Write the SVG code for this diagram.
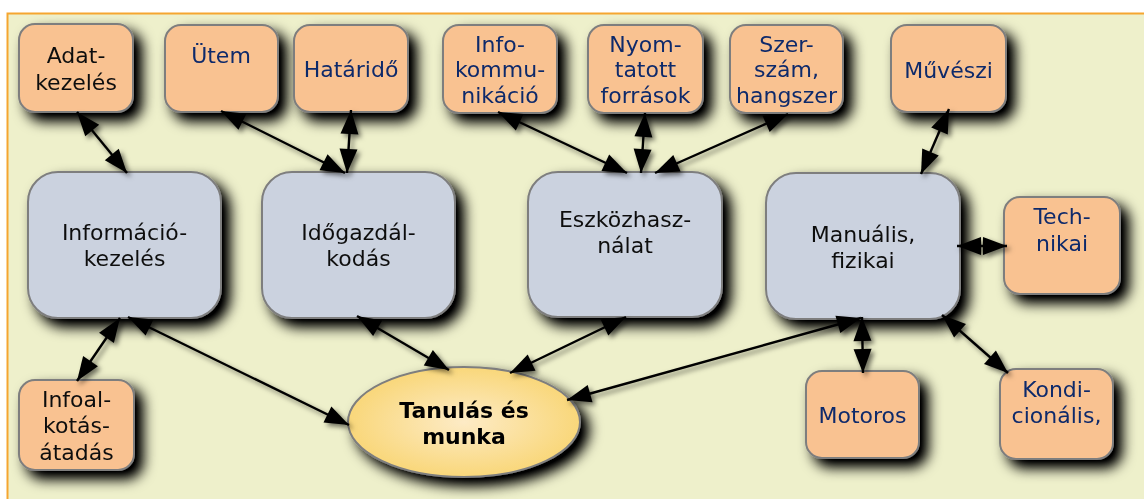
<svg xmlns="http://www.w3.org/2000/svg" width="1144" height="499" viewBox="0 0 1144 499">
<defs>
<style>
.o{fill:#F9C291;stroke:#7E7E7E;stroke-width:2}
.b{fill:#CBD2DF;stroke:#7E7E7E;stroke-width:2}
text{font-family:"DejaVu Sans",Verdana,sans-serif;font-size:22px;text-anchor:middle}
.k{fill:#111111}
.n{fill:#102A6B}
.c line{stroke:#000;stroke-width:2.4;marker-start:url(#ah);marker-end:url(#ah)}
</style>
<filter id="sh" x="-25%" y="-25%" width="160%" height="160%">
<feGaussianBlur in="SourceAlpha" stdDeviation="7"/>
<feOffset dx="8" dy="8"/>
<feComponentTransfer><feFuncA type="linear" slope="1.15"/></feComponentTransfer>
<feMerge><feMergeNode/><feMergeNode in="SourceGraphic"/></feMerge>
</filter>
<filter id="lsh" x="-20%" y="-20%" width="150%" height="150%">
<feDropShadow dx="3" dy="3" stdDeviation="2.5" flood-color="#000" flood-opacity="0.55"/>
</filter>
<marker id="ah" markerUnits="userSpaceOnUse" markerWidth="26" markerHeight="20" refX="24" refY="9" orient="auto-start-reverse" viewBox="0 0 26 18" overflow="visible">
<path d="M0,0 L24,9 L0,18 z" fill="#000"/>
</marker>
<radialGradient id="eg" cx="50%" cy="50%" r="50%">
<stop offset="0" stop-color="#FDEBC6"/>
<stop offset="1" stop-color="#F9D77A"/>
</radialGradient>
</defs>
<rect x="0" y="0" width="1144" height="499" fill="#ffffff"/>
<rect x="7.5" y="13.5" width="1150" height="500" fill="#EEF0CB" stroke="#F5A630" stroke-width="2"/>

<g id="n-adat" filter="url(#sh)"><rect class="o" x="19" y="24" width="114" height="88" rx="16"/><text class="k" x="76" y="63">Adat-</text><text class="k" x="76" y="90">kezelés</text></g>
<g id="n-utem" filter="url(#sh)"><rect class="o" x="165" y="25" width="113" height="87" rx="16"/><text class="n" x="221" y="63">Ütem</text></g>
<g id="n-hatarido" filter="url(#sh)"><rect class="o" x="294" y="25" width="114" height="87" rx="16"/><text class="n" x="351" y="77">Határidő</text></g>
<g id="n-info" filter="url(#sh)"><rect class="o" x="443" y="25" width="114" height="88" rx="16"/><text class="n" x="500" y="52">Info-</text><text class="n" x="500" y="77">kommu-</text><text class="n" x="500" y="103">nikáció</text></g>
<g id="n-nyom" filter="url(#sh)"><rect class="o" x="588" y="25" width="115" height="88" rx="16"/><text class="n" x="645.5" y="52">Nyom-</text><text class="n" x="645.5" y="77">tatott</text><text class="n" x="645.5" y="103">források</text></g>
<g id="n-szer" filter="url(#sh)"><rect class="o" x="730" y="25" width="113" height="88" rx="16"/><text class="n" x="786.5" y="52">Szer-</text><text class="n" x="786.5" y="77">szám,</text><text class="n" x="786.5" y="103">hangszer</text></g>
<g id="n-muveszi" filter="url(#sh)"><rect class="o" x="891" y="25" width="115" height="87" rx="16"/><text class="n" x="948.5" y="78">Művészi</text></g>

<g id="n-informacio" filter="url(#sh)"><rect class="b" x="28" y="172" width="193" height="146" rx="30"/><text class="k" x="124.5" y="240">Információ-</text><text class="k" x="124.5" y="266">kezelés</text></g>
<g id="n-ido" filter="url(#sh)"><rect class="b" x="262" y="172" width="193" height="146" rx="30"/><text class="k" x="358.5" y="240">Időgazdál-</text><text class="k" x="358.5" y="266">kodás</text></g>
<g id="n-eszkoz" filter="url(#sh)"><rect class="b" x="528" y="172" width="194" height="145" rx="30"/><text class="k" x="625" y="227">Eszközhasz-</text><text class="k" x="625" y="253">nálat</text></g>
<g id="n-manualis" filter="url(#sh)"><rect class="b" x="766" y="173" width="194" height="146" rx="30"/><text class="k" x="863" y="242">Manuális,</text><text class="k" x="863" y="268">fizikai</text></g>

<g id="n-tech" filter="url(#sh)"><rect class="o" x="1004" y="197" width="116" height="97" rx="16"/><text class="n" x="1062" y="224">Tech-</text><text class="n" x="1062" y="251">nikai</text></g>
<g id="n-motoros" filter="url(#sh)"><rect class="o" x="806" y="371" width="113" height="87" rx="16"/><text class="n" x="862.5" y="423">Motoros</text></g>
<g id="n-kondi" filter="url(#sh)"><rect class="o" x="1000" y="369" width="113" height="90" rx="16"/><text class="n" x="1056.5" y="397">Kondi-</text><text class="n" x="1056.5" y="423">cionális,</text></g>
<g id="n-infoal" filter="url(#sh)"><rect class="o" x="19" y="380" width="115" height="90" rx="16"/><text class="k" x="76.5" y="407">Infoal-</text><text class="k" x="76.5" y="433">kotás-</text><text class="k" x="76.5" y="460">átadás</text></g>

<g id="n-tanulas" filter="url(#sh)"><ellipse cx="464" cy="422" rx="116" ry="55" fill="url(#eg)" stroke="#7E7E7E" stroke-width="2"/><text x="464" y="418" style="font-weight:bold;font-size:22px;fill:#000">Tanulás és</text><text x="464" y="444" style="font-weight:bold;font-size:22px;fill:#000">munka</text></g>

<g id="connectors" class="c" filter="url(#lsh)">
<line x1="77" y1="112" x2="127" y2="173"/>
<line x1="221" y1="111" x2="345" y2="173"/>
<line x1="351" y1="110" x2="347" y2="173"/>
<line x1="498" y1="112" x2="627" y2="173"/>
<line x1="645" y1="113" x2="641" y2="173"/>
<line x1="788" y1="114" x2="655" y2="173"/>
<line x1="949" y1="109" x2="921" y2="174"/>
<line x1="957" y1="246" x2="1007" y2="246"/>
<line x1="862" y1="317" x2="863" y2="373"/>
<line x1="942" y1="315" x2="1008" y2="373"/>
<line x1="861" y1="318" x2="567" y2="400"/>
<line x1="626" y1="317" x2="510" y2="373"/>
<line x1="357" y1="316" x2="449" y2="370"/>
<line x1="128" y1="317" x2="349" y2="425"/>
<line x1="120" y1="318" x2="77" y2="381"/>
</g>
</svg>
